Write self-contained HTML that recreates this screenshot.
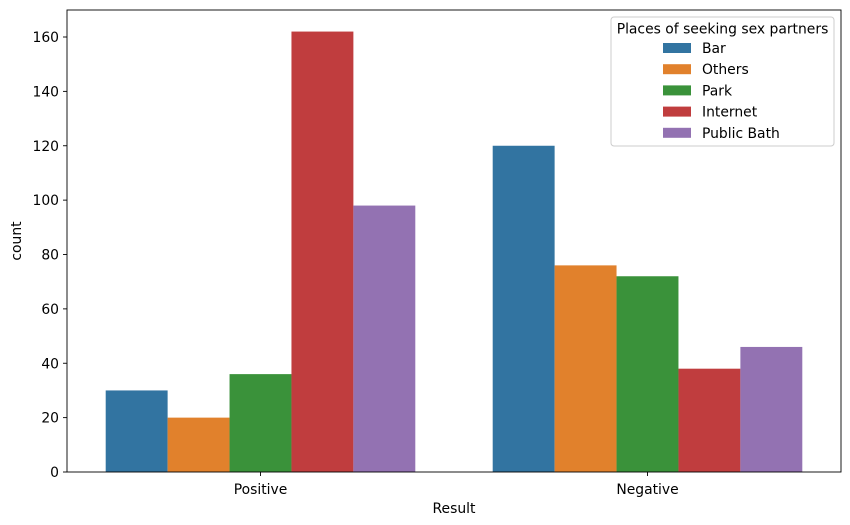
<!DOCTYPE html>
<html><head><meta charset="utf-8"><style>
html,body{margin:0;padding:0;background:#fff;}
svg{display:block;font-family:"DejaVu Sans","Liberation Sans",sans-serif;}
</style></head><body>
<svg id="chart" width="850" height="525">
<g id="grid"></g>
<g id="bars"></g>
<rect x="67" y="10" width="774" height="462" fill="none" stroke="#000" stroke-width="0.9"/>
<g id="yaxis"></g><g id="xaxis"></g>
<text x="454" y="513" font-size="13.9" text-anchor="middle">Result</text>
<text x="21" y="241" font-size="13.9" text-anchor="middle" transform="rotate(-90 21 241)">count</text>
<g id="legend"></g>
</svg>
<script>
const categories = ["Positive","Negative"];
const seriesNames = ["Bar","Others","Park","Internet","Public Bath"];
const barVals = [30,120];
const othersVals = [20,76];
const parkVals = [36,72];
const internetVals = [162,38];
const bathVals = [98,46];
const yTicks = [0,20,40,60,80,100,120,140,160];
const colors = ["#3274a1","#e1812c","#3a923a","#c03d3e","#9372b2"];
const series = [barVals,othersVals,parkVals,internetVals,bathVals];
const NS="http://www.w3.org/2000/svg";
const x0=67,x1=841,yb=472,yPer=435/160;
const y=v=>yb-v*yPer;
const catW=(x1-x0)/categories.length;
const cx=i=>x0+catW*(i+0.5);
const bw=catW*0.8/seriesNames.length;
function mk(t,a,p){const e=document.createElementNS(NS,t);for(const k in a)e.setAttribute(k,a[k]);p.appendChild(e);return e;}
const bars=document.getElementById('bars');
series.forEach((vals,s)=>vals.forEach((v,i)=>{
 const r=mk('rect',{x:cx(i)-catW*0.4+s*bw,y:y(v),width:bw,height:yb-y(v),fill:colors[s]},bars);
 
 
}));
const ya=document.getElementById('yaxis');
yTicks.forEach(t=>{
 mk('line',{x1:x0-4,x2:x0,y1:y(t),y2:y(t),stroke:'#000','stroke-width':0.9},ya);
 const tx=mk('text',{x:x0-8,y:y(t)+5,'font-size':13.9,'text-anchor':'end'},ya);tx.textContent=t;
 
 
});
const xa=document.getElementById('xaxis');
categories.forEach((c,i)=>{
 mk('line',{x1:cx(i),x2:cx(i),y1:yb,y2:yb+4,stroke:'#000','stroke-width':0.9},xa);
 const tx=mk('text',{x:cx(i),y:yb+22,'font-size':13.9,'text-anchor':'middle'},xa);tx.textContent=c;
 
 
});
const lg=document.getElementById('legend');
mk('rect',{x:611,y:17,width:223,height:129,rx:3,fill:'#fff',stroke:'#ccc','stroke-width':1},lg);
const lt=mk('text',{x:722.5,y:33.5,'font-size':13.9,'text-anchor':'middle'},lg);lt.textContent='Places of seeking sex partners';


seriesNames.forEach((n,s)=>{
 const yy=48+s*21.2;
 const g=mk('g',{},lg);
 
 
 mk('rect',{x:663,y:yy-5,width:28,height:10,fill:colors[s]},g);
 const t=mk('text',{x:702,y:yy+5,'font-size':13.9},g);t.textContent=n;
});
</script>
</body></html>
